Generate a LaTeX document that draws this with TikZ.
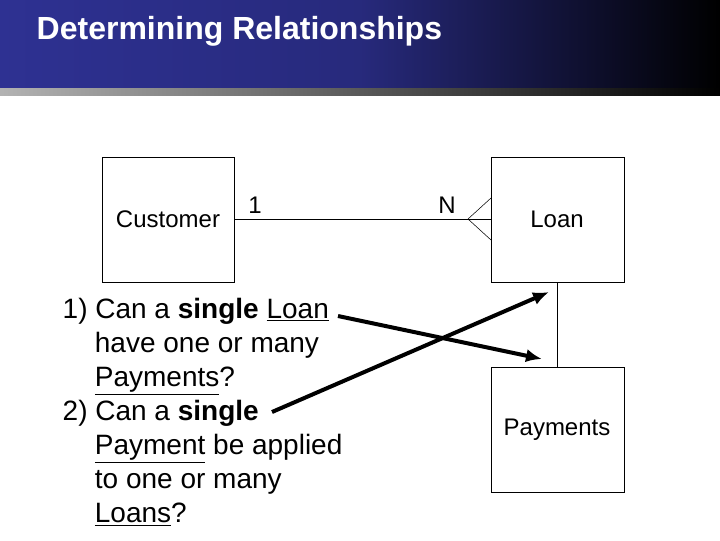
\documentclass[tikz,border=0pt]{standalone}
\usepackage{fontspec}
\setmainfont{Liberation Sans}
\usetikzlibrary{arrows.meta}
\newcommand\myul[1]{\underline{#1}}
\definecolor{hdrblue}{HTML}{2E3192}
\begin{document}
\begin{tikzpicture}[x=0.75pt,y=-0.75pt,
  ent/.style={draw,line width=0.6pt},
  lbl/.style={font=\fontsize{18}{20}\selectfont,anchor=center},
  qtext/.style={font=\fontsize{21}{25.6}\selectfont,anchor=north west,align=left},
  bigarrow/.style={line width=3pt,-{Latex[length=12pt,width=10pt]}}]
\useasboundingbox (0,0) rectangle (720,540);
\shade[left color=hdrblue,right color=black,middle color=hdrblue!85!black] (0,0) rectangle (720,88);
\shade[left color=black!30,right color=black] (0,88) rectangle (720,95);
\node[anchor=west,text=white,font=\bfseries\fontsize{24}{28}\selectfont] (title) at (32,31) {Determining Relationships};
\draw[ent] (102,157) rectangle (234,282);
\node[lbl] (cust) at (168,219) {Customer};
\coordinate (custE) at (234,219);
\draw[ent] (491,157) rectangle (624,282);
\node[lbl] (loan) at (557,219) {Loan};
\coordinate (loanW) at (491,219);
\coordinate (loanS) at (557,282);
\draw[ent] (491,367) rectangle (624,492);
\node[lbl] (pay) at (557,430) {Payments};
\coordinate (payN) at (557,367);
\draw[line width=0.6pt] (custE) -- (loanW);
\draw[line width=0.4pt] (468,219) -- (491,198) (468,219) -- (491,240);
\draw[line width=0.6pt] (loanS) -- (payN);
\node[lbl] (one) at (255,205) {1};
\node[lbl] (en) at (447,205) {N};
\node[qtext] (q) at (58,293) {1) Can a \textbf{single} \myul{Loan}\\
\hspace*{1.15em}have one or many\\
\hspace*{1.15em}\myul{Payments}?\\
2) Can a \textbf{single}\\
\hspace*{1.15em}\myul{Payment} be applied\\
\hspace*{1.15em}to one or many\\
\hspace*{1.15em}\myul{Loans}?};
\coordinate (a1s) at (338,316);
\coordinate (a1e) at (542,359);
\coordinate (a2s) at (272,412);
\coordinate (a2e) at (549,292);
\draw[bigarrow] (a1s) -- (a1e);
\draw[bigarrow] (a2s) -- (a2e);
\end{tikzpicture}
\end{document}
